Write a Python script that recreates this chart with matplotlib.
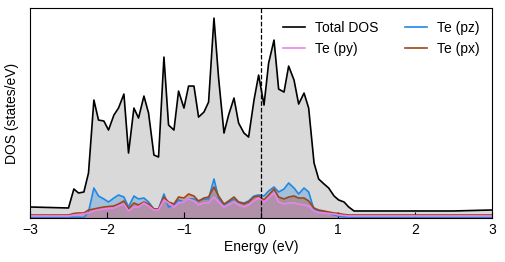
import matplotlib
matplotlib.use("Agg")
import matplotlib.pyplot as plt
import numpy as np

plt.rcParams["font.family"] = ["Liberation Sans", "DejaVu Sans"]

# energies (eV) relative to the Fermi level
energy = [-3.0, -2.50, -2.43, -2.37, -2.30, -2.24, -2.17, -2.11, -2.04, -1.98,
          -1.91, -1.85, -1.78, -1.72, -1.65, -1.59, -1.52, -1.46, -1.39, -1.33,
          -1.26, -1.20, -1.13, -1.07, -1.00, -0.94, -0.87, -0.81, -0.74, -0.68,
          -0.61, -0.55, -0.48, -0.42, -0.35, -0.29, -0.22, -0.16, -0.09, -0.03,
          0.04, 0.10, 0.17, 0.23, 0.30, 0.36, 0.43, 0.49, 0.56, 0.62,
          0.69, 0.75, 0.82, 0.88, 0.95, 1.01, 1.08, 1.14, 1.21, 2.5, 3.0]

total_dos = [11, 10, 29, 25, 26, 45, 118, 98, 97, 88,
             103, 110, 124, 65, 110, 100, 122, 105, 63, 61,
             161, 93, 88, 127, 110, 132, 132, 101, 106, 116,
             200, 140, 85, 103, 120, 95, 85, 81, 118, 143,
             113, 155, 178, 129, 126, 152, 138, 114, 125, 110,
             55, 39, 34, 30, 22, 18, 16, 11, 7, 7, 8]

te_pz = [0.7, 0.7, 0.7, 0.7, 0.5, 6, 30, 22, 19, 16,
         20, 23, 21, 11, 22, 19, 20, 16, 9, 9,
         24, 11, 13, 18, 16, 19, 19, 17, 19, 19,
         39, 20, 13, 16, 19, 16, 15, 17, 22, 23,
         22, 27, 31, 26, 29, 35, 30, 24, 30, 26,
         8, 7, 6, 5, 3, 2, 1.2, 0.8, 0.7, 0.7, 0.7]

te_px = [3, 3, 4.5, 5, 5, 8, 9, 10, 11, 11.5,
         12, 14, 17, 9, 15, 13, 16, 14, 9, 9,
         21, 16, 14, 21, 20, 24, 22, 17, 20, 21,
         31, 22, 14, 17, 21, 16, 14, 16, 21, 22,
         18, 23, 29, 21, 19, 21, 22, 20, 20, 17,
         10, 8, 7, 6, 5, 4.5, 3.5, 3, 3, 3, 3]

te_py = [2, 2, 3, 3.5, 4, 5, 7, 8, 9, 9.5,
         10, 12, 14, 7, 11, 11, 15, 12, 8, 8,
         18, 15, 11, 15, 16, 19, 17, 13, 15, 15,
         21, 16, 11, 13, 16, 13, 11, 13, 17, 20,
         16, 20, 25, 16, 14, 15, 15, 14, 13, 12,
         7, 5.5, 5, 4.5, 4, 3, 2.5, 2, 2, 2, 2]

fig = plt.figure(figsize=(5.05, 2.62), dpi=100)
ax = fig.add_axes([0.0594, 0.168, 0.9146, 0.801])

ax.fill_between(energy, total_dos, color="0.85", lw=0)
l_tot, = ax.plot(energy, total_dos, color="black", lw=1.2, label="Total DOS")

c_pz, c_py, c_px = "#1E88E5", "violet", "#A0451A"
ax.fill_between(energy, te_pz, color=c_pz, alpha=0.3, lw=0)
l_pz, = ax.plot(energy, te_pz, color=c_pz, lw=1.2, label="Te (pz)")
ax.fill_between(energy, te_px, color=c_px, alpha=0.35, lw=0)
l_px, = ax.plot(energy, te_px, color=c_px, lw=1.2, label="Te (px)")
ax.fill_between(energy, te_py, color=c_py, alpha=0.22, lw=0)
l_py, = ax.plot(energy, te_py, color=c_py, lw=1.2, label="Te (py)")

ax.axvline(0, color="black", ls="--", lw=0.9)

ax.set_xlim(-3, 3)
ax.set_ylim(0, 210)
ax.set_yticks([])
ax.set_xticks([-3, -2, -1, 0, 1, 2, 3])
ax.tick_params(axis="x", direction="in", labelsize=10, length=4)
ax.set_xlabel("Energy (eV)", fontsize=10, labelpad=2)
ax.set_ylabel("DOS (states/eV)", fontsize=10, labelpad=8)

ax.legend([l_tot, l_py, l_pz, l_px], ["Total DOS", "Te (py)", "Te (pz)", "Te (px)"],
          ncol=2, frameon=False, loc="upper right", fontsize=10,
          handlelength=1.6, handletextpad=0.7, columnspacing=1.9,
          bbox_to_anchor=(1.0, 1.0))

fig.savefig("out.png", dpi=100)
